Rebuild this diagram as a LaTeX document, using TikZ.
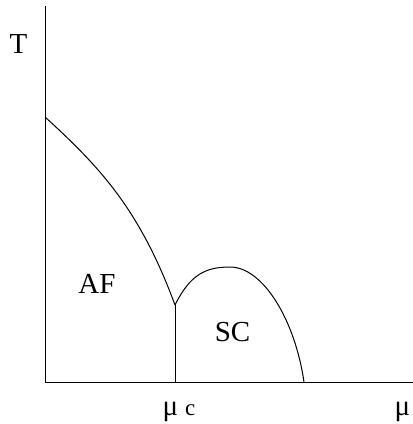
\documentclass[tikz,border=0pt]{standalone}
\usepackage{fontspec}
\setmainfont{Liberation Serif}
\usetikzlibrary{positioning,calc}

\begin{document}
\begin{tikzpicture}[x=1pt, y=-1pt, line width=1pt, every node/.style={inner sep=0pt, font=\fontsize{29}{29}\selectfont}]
	\useasboundingbox (0,0) rectangle (413,424);
	\coordinate (Ttop) at (45,6);
	\coordinate (O) at (45,382);
	\coordinate (Xend) at (413,382);
	\coordinate (Tn) at (45,117);
	\coordinate (J) at (175,305);
	\coordinate (Mc) at (175,382);
	\coordinate (P) at (230,267);
	\coordinate (E) at (304,382);
	\draw (Ttop) -- (O) -- (Xend);
	\draw (Tn) .. controls (100,167) and (140,210) .. (J);
	\draw (J) -- (Mc);
	\draw (J) .. controls (190,275) and (205,267) .. (P) .. controls (263,267) and (295,320) .. (E);
	\node (T) at (18.5,44) {T};
	\node (AF) at (97,284) {AF};
	\node (SC) at (232.5,332) {SC};
	\node[anchor=base west] (muc) at (162,415) {μ\hspace{7pt}{\fontsize{23}{23}\selectfont c}};
	\node[anchor=base west] (mu) at (394,415) {μ};
\end{tikzpicture}
\end{document}
